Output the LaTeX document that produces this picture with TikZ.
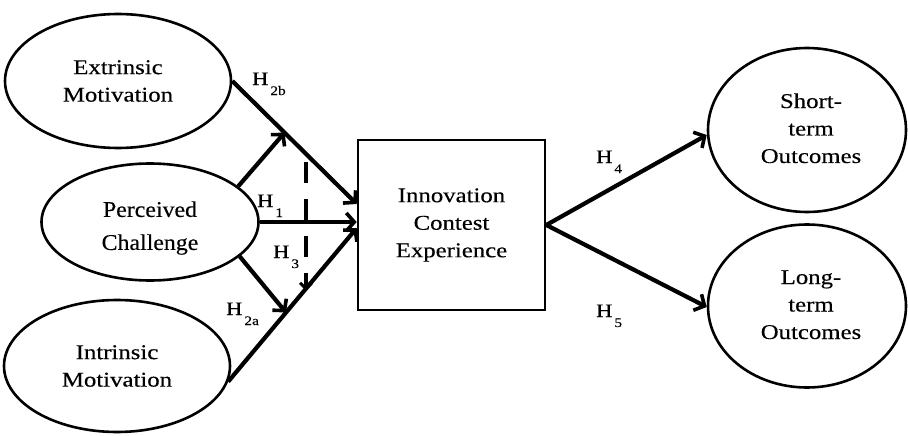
\documentclass[tikz,border=0pt]{standalone}
\usepackage{fontspec}
\setmainfont{Liberation Serif}[FakeStretch=1.18,FakeBold=0.3]
\newfontfamily\pcfont{Liberation Serif}[FakeStretch=1.06,FakeBold=0.3]
\usetikzlibrary{shapes.geometric,arrows.meta,calc}
\newcommand\hsub[1]{\kern2pt\raisebox{-10pt}{\fontsize{13}{13}\selectfont #1}}
\begin{document}
\begin{tikzpicture}[x=1pt,y=-1pt,
  oval/.style={draw, line width=2.6pt, ellipse, inner sep=0pt, align=center, font=\fontsize{21}{27.5}\selectfont},
  box/.style={draw, line width=2.6pt, rectangle, inner sep=0pt, align=center, font=\fontsize{21}{27.5}\selectfont},
  link/.style={line width=4.2pt, -{Straight Barb[length=8pt,width=18pt,line width=3.6pt]}},
  dlink/.style={line width=3.6pt, dash pattern=on 21pt off 16pt, -{Straight Barb[length=6pt,width=12pt,line width=3pt]}},
  hlab/.style={anchor=base west, inner sep=0pt, font=\fontsize{19}{19}\selectfont},
]
\useasboundingbox (0,0) rectangle (908,436);
\node[oval, minimum width=226pt, minimum height=134pt] (ext) at (118,81) {Extrinsic\\Motivation};
\node[oval, minimum width=217pt, minimum height=117pt, font=\pcfont\fontsize{22.5}{33}\selectfont] (per) at (150,222)
  {\raisebox{-10pt}[0pt][0pt]{\begin{tabular}{@{}c@{}}Perceived\\Challenge\end{tabular}}};
\node[oval, minimum width=226pt, minimum height=132pt] (int) at (117,366) {Intrinsic\\Motivation};
\node[box, minimum width=187pt, minimum height=170pt] (ice) at (451.5,225) {Innovation\\Contest\\Experience};
\node[oval, minimum width=198pt, minimum height=164pt] (st) at (807,130) {\hspace*{8pt}\begin{tabular}{@{}c@{}}Short-\\term\\Outcomes\end{tabular}};
\node[oval, minimum width=198pt, minimum height=163pt] (lt) at (807,306) {\hspace*{8pt}\begin{tabular}{@{}c@{}}Long-\\term\\Outcomes\end{tabular}};
\coordinate (iA) at ($(ice.west)+(0,-21)$);
\coordinate (iB) at ($(ice.west)+(0,3)$);
\coordinate (oS) at ($(st.west)+(0,5)$);
\coordinate (oL) at ($(lt.west)+(0,1)$);
\coordinate (mE) at ($(ext.east)!0.42!(iA)$);
\coordinate (mI) at ($(int.-8)!0.45!(iB)$);
\coordinate (dBot) at ($(int.-8)!0.59!(iB)$);
\coordinate (dTop) at (306,162);
\draw[link] (ext.east) -- (iA);
\draw[link] (per.east) -- (per.east -| ice.west);
\draw[link] (int.-8) -- (iB);
\draw[link] (per.22) -- (mE);
\draw[link] (per.-21) -- (mI);
\draw[dlink] (dTop) -- (dTop |- dBot);
\draw[link] (ice.east) -- (oS);
\draw[link] (ice.east) -- (oL);
\node[hlab] (h2b) at (252,85) {H\hsub{2b}};
\node[hlab] (h1) at (257,207) {H\hsub{1}};
\node[hlab] (h3) at (273,258) {H\hsub{3}};
\node[hlab] (h2a) at (226,315) {H\hsub{2a}};
\node[hlab] (h4) at (596,163) {H\hsub{4}};
\node[hlab] (h5) at (596,317) {H\hsub{5}};
\end{tikzpicture}
\end{document}
